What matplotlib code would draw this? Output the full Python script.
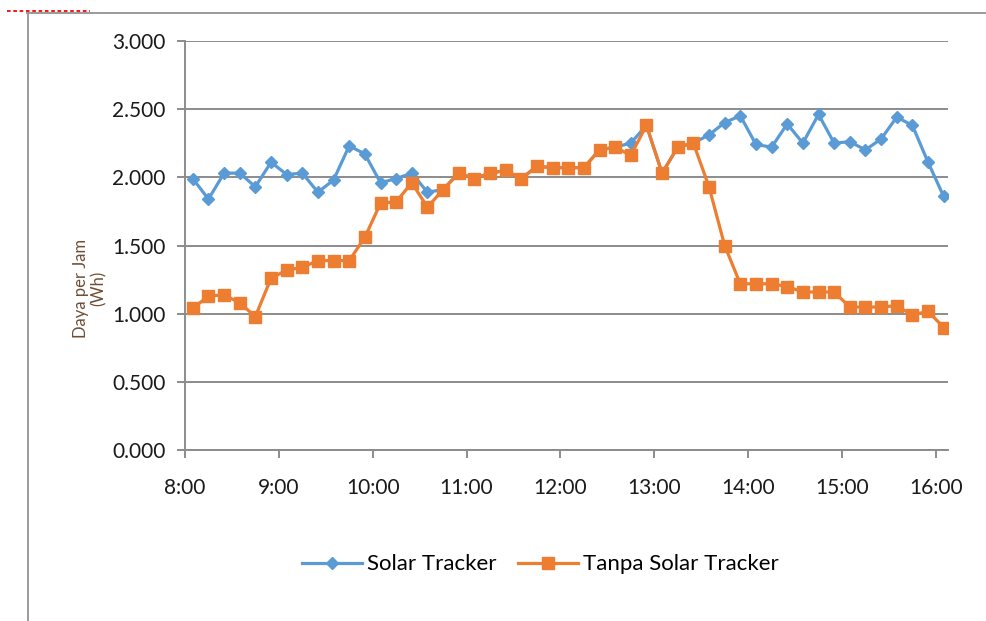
"""Daya per Jam: Solar Tracker vs Tanpa Solar Tracker"""

import matplotlib.pyplot as plt
from matplotlib.lines import Line2D
import numpy as np

plt.rcParams["font.family"] = ["Lato", "DejaVu Sans"]

# readings every 10 minutes, starting 8:05 (hours as decimals)
start_min = 5
step_min = 10

solar_tracker = [
    1.99, 1.84, 2.03, 2.03, 1.93, 2.11, 2.02, 2.03, 1.89, 1.98,
    2.23, 2.17, 1.96, 1.99, 2.03, 1.89, 1.91, 2.03, 1.99, 2.03,
    2.05, 1.99, 2.08, 2.07, 2.07, 2.07, 2.20, 2.22, 2.25, 2.38,
    2.03, 2.22, 2.25, 2.31, 2.40, 2.45, 2.24, 2.22, 2.39, 2.25,
    2.46, 2.25, 2.26, 2.20, 2.28, 2.44, 2.38, 2.11, 1.86,
]
tanpa_tracker = [
    1.04, 1.13, 1.14, 1.08, 0.98, 1.26, 1.32, 1.34, 1.39, 1.39,
    1.39, 1.56, 1.81, 1.82, 1.96, 1.78, 1.91, 2.03, 1.99, 2.03,
    2.05, 1.99, 2.08, 2.07, 2.07, 2.07, 2.20, 2.22, 2.16, 2.38,
    2.03, 2.22, 2.25, 1.93, 1.50, 1.22, 1.22, 1.22, 1.20, 1.16,
    1.16, 1.16, 1.05, 1.05, 1.05, 1.06, 0.99, 1.02, 0.90,
]
hour_ticks = [8, 9, 10, 11, 12, 13, 14, 15, 16]
hour_labels = [f"{h}:00" for h in hour_ticks]
y_ticks = [0.0, 0.5, 1.0, 1.5, 2.0, 2.5, 3.0]

times = 8 + (start_min + step_min * np.arange(len(solar_tracker))) / 60.0

blue = "#5B9BD5"
orange = "#ED7D31"
axis_gray = "#8C8C8C"

fig = plt.figure(figsize=(9.86, 6.21), dpi=100)
ax = fig.add_axes([0.1876, 0.2746, 0.7739, 0.66])

ax.plot(times, solar_tracker, color=blue, linewidth=2.3, marker="D",
        markersize=6.5, zorder=3)
ax.plot(times, tanpa_tracker, color=orange, linewidth=2.3, marker="s",
        markersize=8.5, zorder=4)

ax.set_xlim(8.0, 16.13)
ax.set_ylim(0, 3.0)
ax.set_xticks(hour_ticks)
ax.set_xticklabels(hour_labels)
ax.set_yticks(y_ticks)
ax.set_yticklabels([f"{v:.3f}" for v in y_ticks])

ax.grid(axis="y", color=axis_gray, linewidth=1.4, zorder=0)
for side in ["top", "right"]:
    ax.spines[side].set_visible(False)
for side in ["left", "bottom"]:
    ax.spines[side].set_color(axis_gray)
    ax.spines[side].set_linewidth(1.4)
ax.tick_params(axis="both", colors=axis_gray, length=6, width=1.4,
               labelcolor="#1a1a1a")
ax.tick_params(axis="y", pad=8, labelsize=15)
ax.tick_params(axis="x", pad=14, labelsize=15)

fig.text(0.091, 0.535, "Daya per Jam\n(Wh)", rotation=90, ha="center",
         va="center", fontsize=12, color="#6e4e34", linespacing=1.1)

handles = [
    Line2D([], [], color=blue, linewidth=2.3, marker="D", markersize=6.5),
    Line2D([], [], color=orange, linewidth=2.3, marker="s", markersize=8.5),
]
fig.legend(handles, ["Solar Tracker", "Tanpa Solar Tracker"],
           loc="center", bbox_to_anchor=(0.548, 0.091), ncol=2,
           frameon=False, fontsize=16, handlelength=2.7,
           handletextpad=0.2, columnspacing=1.0)

# outer frame pieces and the red dotted mark at top left
fig.add_artist(Line2D([27 / 986, 1.0], [1 - 12.5 / 621] * 2,
                      color="#9a9a9a", linewidth=1.4))
fig.add_artist(Line2D([27.5 / 986] * 2, [0, 1 - 12.5 / 621],
                      color="#9a9a9a", linewidth=1.4))
fig.add_artist(Line2D([7 / 986, 90 / 986], [1 - 11 / 621] * 2,
                      color="red", linewidth=1.3, linestyle=(0, (2, 1.5))))

fig.savefig("out.png", dpi=100)
plt.close(fig)
